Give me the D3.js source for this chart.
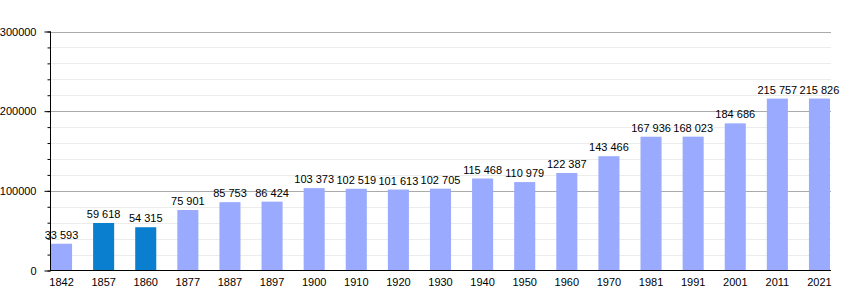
<!DOCTYPE html>
<html>
<head>
<meta charset="utf-8">
<script src="https://cdn.jsdelivr.net/npm/d3@7"></script>
<style>
  body { margin: 0; background: #fff; }
  text { font-family: "Liberation Sans", Arial, sans-serif; }
</style>
</head>
<body>
<div id="chart"></div>
<script>
// census years and population
const years = ["1842", "1857", "1860", "1877", "1887", "1897", "1900", "1910", "1920", "1930",
               "1940", "1950", "1960", "1970", "1981", "1991", "2001", "2011", "2021"]
const population = [33593, 59618, 54315, 75901, 85753, 86424, 103373, 102519, 101613, 102705,
                    115468, 110979, 122387, 143466, 167936, 168023, 184686, 215757, 215826]
// years drawn in the darker colour
const highlighted = ["1857", "1860"]
const majorTicks = [0, 100000, 200000, 300000]
const minorTicks = d3.range(0, 300001, 20000)

let width = 860, height = 300
let svg = d3.select("#chart").append("svg")
    .attr("width", width)
    .attr("height", height)

let x = d3.scaleBand()
    .domain(years)
    .range([51, 830])
    .paddingInner(0.5)
    .paddingOuter(0)

let y = d3.scaleLinear()
    .domain([0, 300000])
    .range([270.5, 31.5])

// minor grid
svg.selectAll(".minor")
    .data(minorTicks.filter(d => d % 100000 !== 0))
    .enter().append("line")
    .attr("x1", 50).attr("x2", 831)
    .attr("y1", d => Math.round(y(d)) + 0.5)
    .attr("y2", d => Math.round(y(d)) + 0.5)
    .attr("stroke", "#ececec")

// major grid
svg.selectAll(".major")
    .data(majorTicks.filter(d => d > 0))
    .enter().append("line")
    .attr("x1", 50).attr("x2", 831)
    .attr("y1", d => Math.round(y(d)) + 0.5)
    .attr("y2", d => Math.round(y(d)) + 0.5)
    .attr("stroke", "#aaaaaa")

// bars
svg.selectAll("rect")
    .data(years)
    .enter().append("rect")
    .attr("x", d => x(d))
    .attr("width", x.bandwidth())
    .attr("y", (d, i) => y(population[i]))
    .attr("height", (d, i) => y(0) - y(population[i]))
    .attr("fill", d => highlighted.includes(d) ? "#0a7fd0" : "#99aaff")

// value labels
const fmt = v => d3.format(",")(v).replace(/,/g, " ")
svg.selectAll(".val")
    .data(years)
    .enter().append("text")
    .attr("x", d => x(d) + x.bandwidth() / 2)
    .attr("y", (d, i) => y(population[i]) - 5)
    .attr("text-anchor", "middle")
    .attr("font-size", 11)
    .attr("fill", "#000")
    .text((d, i) => fmt(population[i]))

// y axis with minor ticks
let yAxis = svg.append("g").attr("transform", "translate(50.5,0)")
yAxis.call(d3.axisLeft(y).tickValues(minorTicks).tickSize(3).tickFormat(""))
yAxis.select(".domain").remove()
let yMajor = svg.append("g").attr("transform", "translate(50.5,0)")
yMajor.call(d3.axisLeft(y).tickValues(majorTicks).tickSize(6).tickPadding(8).tickFormat(d3.format("d")))
yMajor.select(".domain").attr("d", "M0,31.5V270.5")
yMajor.selectAll("text").attr("font-size", 11).attr("fill", "#000")
    .attr("font-family", "Liberation Sans, Arial, sans-serif")
svg.selectAll(".tick line").attr("stroke", "#000")

// x axis
let xAxis = svg.append("g").attr("transform", "translate(0,270.5)")
xAxis.call(d3.axisBottom(x).tickSize(0).tickPadding(8))
xAxis.select(".domain").attr("d", "M50,0H831")
xAxis.selectAll("text").attr("font-size", 11).attr("fill", "#000")
    .attr("font-family", "Liberation Sans, Arial, sans-serif")
</script>
</body>
</html>
